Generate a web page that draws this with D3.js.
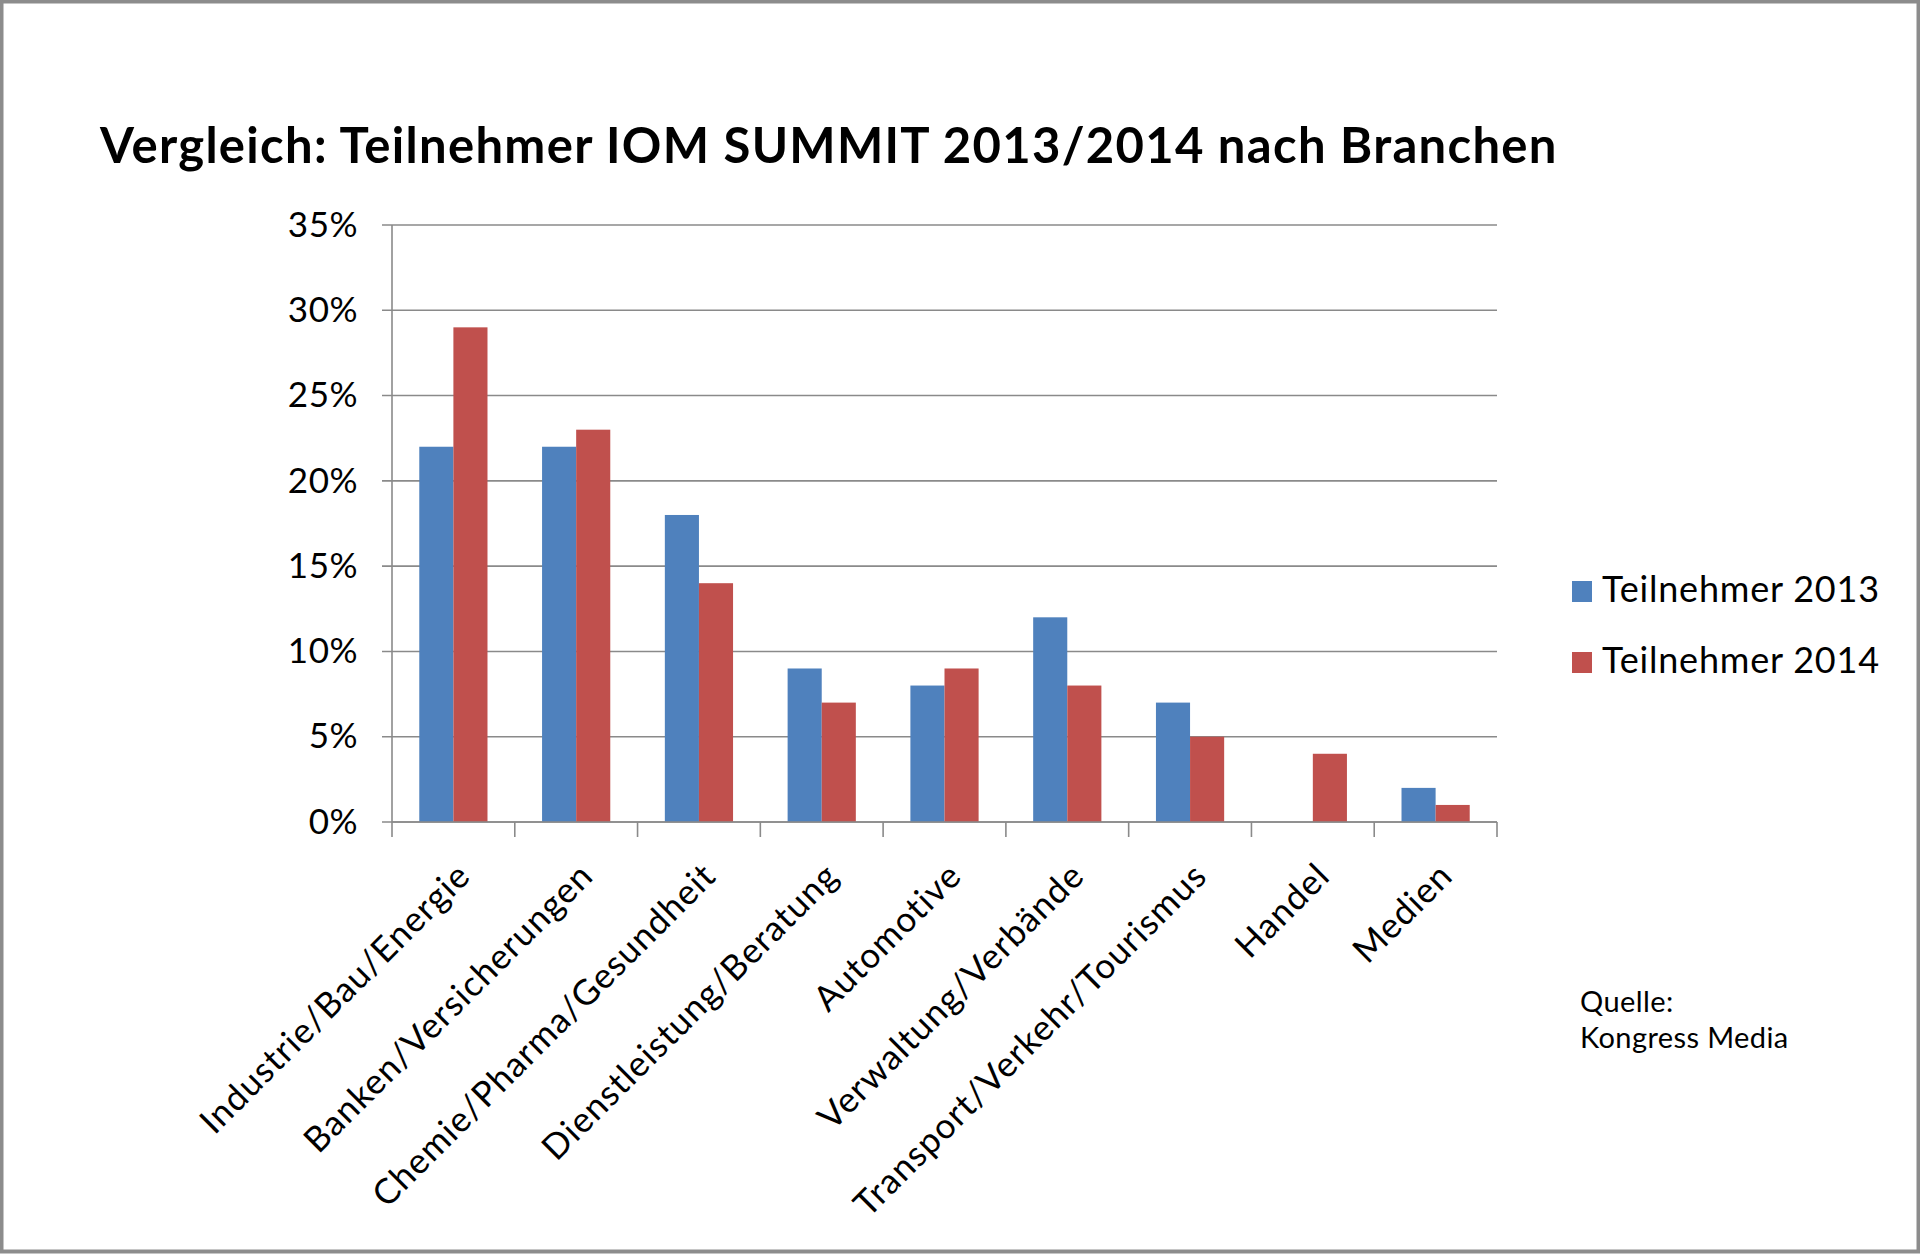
<!DOCTYPE html>
<html>
<head>
<meta charset="utf-8">
<script src="https://cdn.jsdelivr.net/npm/d3@7"></script>
<style>
  html, body { margin: 0; padding: 0; background: #fff; }
  svg { display: block; }
  text { font-family: Lato, "Open Sans", sans-serif; fill: #000; }
</style>
</head>
<body>
<svg id="chart"></svg>
<script>
// data
const categories = ["Industrie/Bau/Energie", "Banken/Versicherungen", "Chemie/Pharma/Gesundheit",
  "Dienstleistung/Beratung", "Automotive", "Verwaltung/Verbände", "Transport/Verkehr/Tourismus",
  "Handel", "Medien"];
const series = ["Teilnehmer 2013", "Teilnehmer 2014"];
const values2013 = [22, 22, 18, 9, 8, 12, 7, 0, 2];
const values2014 = [29, 23, 14, 7, 9, 8, 5, 4, 1];
const yTicks = [0, 5, 10, 15, 20, 25, 30, 35];
const colors = ["#4f81bd", "#c0504d"];

const W = 1920, H = 1254;
const plotL = 392, plotR = 1497, plotT = 225, plotB = 822;

const svg = d3.select('#chart')
  .attr('width', W)
  .attr('height', H);

// frame
svg.append('rect')
  .attr('x', 1.5).attr('y', 1.5)
  .attr('width', W - 3).attr('height', H - 4)
  .attr('fill', '#fff')
  .attr('stroke', '#8c8c8c')
  .attr('stroke-width', 4);

svg.append('text')
  .attr('x', 100)
  .attr('y', 163)
  .attr('font-size', 49)
  .attr('letter-spacing', 1.3)
  .attr('font-weight', 'bold')
  .text('Vergleich: Teilnehmer IOM SUMMIT 2013/2014 nach Branchen');

const x0 = d3.scaleBand().domain(categories).range([plotL, plotR]);
const x1 = d3.scaleBand().domain(series).range([0, x0.bandwidth()]).paddingOuter(0.8);
const y = d3.scaleLinear().domain([0, 35]).range([plotB, plotT]);

// gridlines
svg.append('g')
  .selectAll('line')
  .data(yTicks)
  .enter()
  .append('line')
  .attr('x1', plotL - 10)
  .attr('x2', plotR)
  .attr('y1', d => y(d))
  .attr('y2', d => y(d))
  .attr('stroke', '#8a8a8a')
  .attr('stroke-width', 1.6);

// y axis labels
const yAxis = d3.axisLeft(y).tickValues(yTicks).tickSize(0).tickPadding(34).tickFormat(d => d + '%');
const gy = svg.append('g').attr('transform', `translate(${plotL},0)`).call(yAxis);
gy.select('.domain').remove();
gy.selectAll('text')
  .attr('font-size', 35)
  .attr('letter-spacing', 0.5)
  .attr('font-family', 'Lato, sans-serif')
  .attr('fill', '#000');

// bars
const rows = categories.map((c, i) => ({cat: c, vals: [values2013[i], values2014[i]]}));
const groups = svg.append('g')
  .selectAll('g')
  .data(rows)
  .enter()
  .append('g')
  .attr('transform', d => `translate(${x0(d.cat)},0)`);

groups.selectAll('rect')
  .data(d => d.vals.map((v, j) => ({s: series[j], v: v, j: j})))
  .enter()
  .append('rect')
  .attr('x', d => x1(d.s))
  .attr('width', x1.bandwidth())
  .attr('y', d => y(d.v))
  .attr('height', d => y(0) - y(d.v))
  .attr('fill', d => colors[d.j]);

// y axis line
svg.append('line')
  .attr('x1', plotL).attr('x2', plotL)
  .attr('y1', plotT).attr('y2', plotB)
  .attr('stroke', '#8a8a8a')
  .attr('stroke-width', 1.6);

// x axis line and ticks
svg.append('line')
  .attr('x1', plotL).attr('x2', plotR)
  .attr('y1', plotB).attr('y2', plotB)
  .attr('stroke', '#8a8a8a')
  .attr('stroke-width', 1.6);

const boundaries = categories.map(c => x0(c)).concat([plotR]);
svg.append('g')
  .selectAll('line')
  .data(boundaries)
  .enter()
  .append('line')
  .attr('x1', d => d).attr('x2', d => d)
  .attr('y1', plotB).attr('y2', plotB + 15)
  .attr('stroke', '#8a8a8a')
  .attr('stroke-width', 1.6);

// rotated category labels
svg.append('g')
  .selectAll('text')
  .data(categories)
  .enter()
  .append('text')
  .attr('transform', d => `translate(${x0(d) + x0.bandwidth() / 2 + 19},878) rotate(-45)`)
  .attr('text-anchor', 'end')
  .attr('font-size', 35)
  .attr('letter-spacing', 1.1)
  .text(d => d);

// legend
const legend = svg.append('g')
  .selectAll('g')
  .data(series)
  .enter()
  .append('g')
  .attr('transform', (d, i) => `translate(1572,${581 + i * 71})`);

legend.append('rect')
  .attr('width', 20)
  .attr('height', 21)
  .attr('fill', (d, i) => colors[i]);

legend.append('text')
  .attr('x', 30)
  .attr('y', 21)
  .attr('font-size', 36)
  .attr('letter-spacing', 0.8)
  .text(d => d);

// source note
svg.append('text')
  .attr('x', 1580)
  .attr('y', 1012)
  .attr('font-size', 29)
  .attr('letter-spacing', 0.4)
  .text('Quelle:');
svg.append('text')
  .attr('x', 1580)
  .attr('y', 1048)
  .attr('font-size', 29)
  .attr('letter-spacing', 0.4)
  .text('Kongress Media');
</script>
</body>
</html>
